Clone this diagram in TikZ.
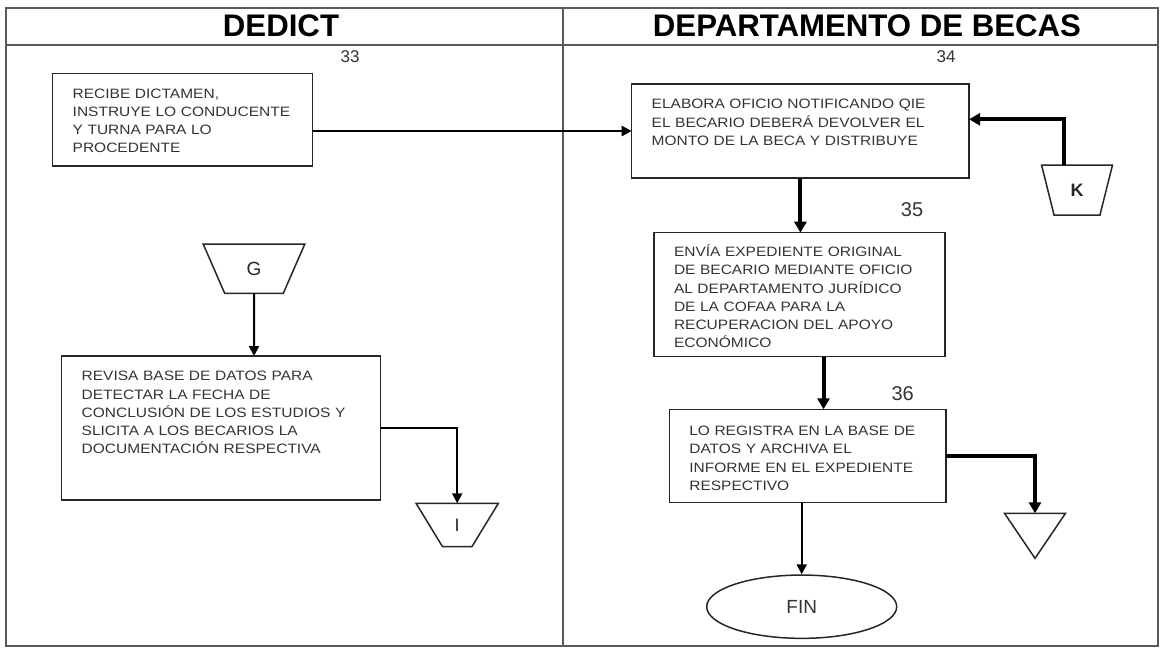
\documentclass[tikz,border=0pt]{standalone}
\usepackage{fontspec}
\setmainfont{Liberation Sans}
\newfontfamily\boxfont{Liberation Sans}[FakeStretch=1.14]
\usetikzlibrary{arrows.meta,shapes.geometric}

\begin{document}
\begin{tikzpicture}[
  x=0.5pt, y=-0.5pt,
  lane/.style={draw=black!65, line width=1pt},
  header/.style={font=\fontsize{15.6}{18}\selectfont\bfseries, inner sep=0pt},
  stepbox/.style={rectangle, draw=black!85, line width=0.75pt, anchor=north west, align=left, inner xsep=10pt, inner ysep=0pt, outer sep=0pt, text=black!80, font=\boxfont\fontsize{6.8}{9.1}\selectfont},
  offpage/.style={trapezium, draw=black!85, line width=0.75pt, shape border rotate=180, trapezium stretches=true, inner sep=0pt, outer sep=0pt, text=black!85},
  stepnum/.style={text=black!80, inner sep=0pt},
  arrow/.style={-{Triangle[length=5pt,width=5pt]}, line width=1pt},
  thickarrow/.style={-{Triangle[length=5.5pt,width=6pt]}, line width=2pt}
]
\useasboundingbox (0,0) rectangle (1161,648);
% lanes
\draw[lane] (6,7.5) rectangle (1158,646);
\draw[lane] (6,44.5) -- (1158,44.5);
\draw[lane] (563,7.5) -- (563,646);
\node[header] (dedict) at (281,26) {DEDICT};
\node[header] (becas) at (867,26) {DEPARTAMENTO DE BECAS};
% step numbers
\node[stepnum, font=\fontsize{8.5}{9}\selectfont] (n33) at (350,57) {33};
\node[stepnum, font=\fontsize{8.5}{9}\selectfont] (n34) at (946,57) {34};
\node[stepnum, font=\fontsize{10}{12}\selectfont] (n35) at (912,209.3) {35};
\node[stepnum, font=\fontsize{10}{12}\selectfont] (n36) at (902.7,394) {36};
% steps
\node[stepbox, text width=110pt, text height=12.45pt, text depth=33.9pt] (recibe) at (52.7,73.3) {RECIBE DICTAMEN,\\INSTRUYE LO CONDUCENTE\\Y TURNA PARA LO\\PROCEDENTE};
\node[stepbox, text width=148.7pt, text height=12.45pt, text depth=34.55pt] (elabora) at (631.7,84) {ELABORA OFICIO NOTIFICANDO QIE\\EL BECARIO DEBERÁ DEVOLVER EL\\MONTO DE LA BECA Y DISTRIBUYE};
\node[stepbox, text width=125.5pt, text height=11.95pt, text depth=50.05pt] (envia) at (654,232.7) {ENVÍA EXPEDIENTE ORIGINAL\\DE BECARIO MEDIANTE OFICIO\\AL DEPARTAMENTO JURÍDICO\\DE LA COFAA PARA LA\\RECUPERACION DEL APOYO\\ECONÓMICO};
\node[stepbox, text width=139.5pt, text height=12.45pt, text depth=59.55pt] (revisa) at (61.7,356) {REVISA BASE DE DATOS PARA\\DETECTAR LA FECHA DE\\CONCLUSIÓN DE LOS ESTUDIOS Y\\SLICITA A LOS BECARIOS LA\\DOCUMENTACIÓN RESPECTIVA};
\node[stepbox, text width=118.35pt, text height=13.15pt, text depth=33.55pt] (registra) at (669.3,409.3) {LO REGISTRA EN LA BASE DE\\DATOS Y ARCHIVA EL\\INFORME EN EL EXPEDIENTE\\RESPECTIVO};
% connectors
\node[offpage, minimum width=50.85pt, minimum height=24.65pt, trapezium angle=68, font=\fontsize{9.5}{11}\selectfont] (G) at (254,268.7) {G};
\node[offpage, minimum width=35.5pt, minimum height=25pt, trapezium angle=74, font=\fontsize{9}{11}\selectfont\bfseries] (K) at (1077,190) {K};
\node[offpage, minimum width=41.15pt, minimum height=21.7pt, trapezium angle=70, font=\fontsize{9}{11}\selectfont] (I) at (457.2,525) {I};
\node[isosceles triangle, draw=black!85, line width=0.75pt, shape border rotate=270, isosceles triangle stretches, minimum width=30.5pt, minimum height=22.5pt, inner sep=0pt, outer sep=0pt, anchor=apex] (tri) at (1035,558.3) {};
\node[ellipse, draw=black!85, line width=0.75pt, minimum width=95pt, minimum height=31.65pt, inner sep=0pt, text=black!80, font=\fontsize{9.5}{11}\selectfont] (fin) at (801.7,606.7) {FIN};
% flow
\draw[arrow, line width=1.4pt] (recibe.east |- elabora.west) -- (elabora.west);
\draw[thickarrow] ([xshift=-6.5pt]K.north) |- ([yshift=5.85pt]elabora.east);
\draw[thickarrow] (elabora.south) -- (elabora.south |- envia.north);
\draw[thickarrow] ([xshift=12pt]envia.south) -- ([xshift=12pt]envia.south |- registra.north);
\draw[thickarrow] (registra.east) -| (tri);
\draw[arrow] (fin |- registra.south) -- (fin);
\draw[arrow] (G) -- (G |- revisa.north);
\draw[arrow] (revisa.east) -| (I);
\end{tikzpicture}
\end{document}
